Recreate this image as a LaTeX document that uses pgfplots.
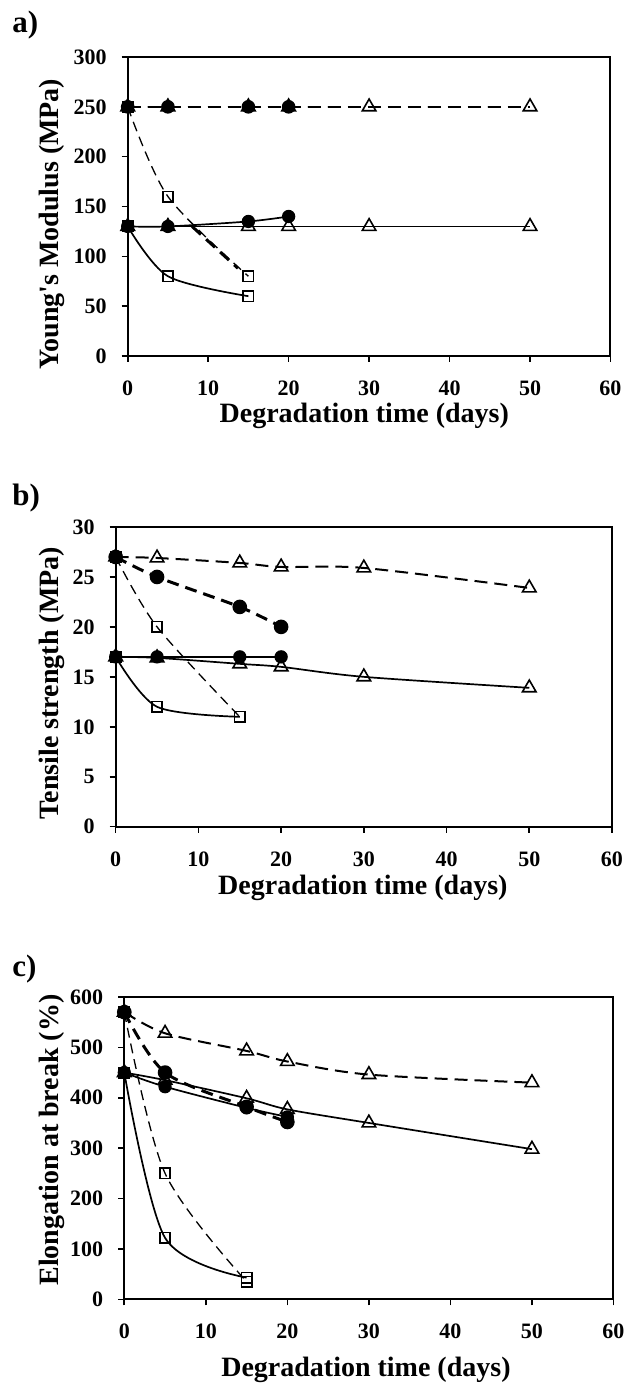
\documentclass[border=0pt]{standalone}
\usepackage{fontspec}
\setmainfont{Liberation Serif}
\usepackage{pgfplots}
\pgfplotsset{compat=1.18}

\pgfplotsset{
  panel/.style={
    scale only axis, anchor=south west,
    xmin=0, xmax=60, xtick={0,10,...,60},
    axis line style={line width=1pt},
    every tick/.style={black, line width=0.8pt},
    tick align=outside, major tick length=3pt,
    xtick pos=left, ytick pos=left,
    /pgf/number format/assume math mode=true,
    ticklabel style={font=\fontsize{11}{13}\selectfont\bfseries},
    xticklabel style={yshift=-6pt},
    yticklabel style={xshift=-4pt},
    label style={font=\fontsize{14}{16}\selectfont\bfseries},
    xlabel={Degradation time (days)},
    clip=false,
  },
  tri/.style={mark=triangle, mark size=3.9pt, mark options={solid, fill=white, line width=0.8pt}},
  sq/.style={mark=square, mark size=2.6pt, mark options={solid, fill=white, line width=0.8pt}},
  circ/.style={mark=*, mark size=2.9pt, mark options={solid, fill=black}},
  fsq/.style={mark=square*, mark size=2.6pt, mark options={solid, fill=black}},
  sline/.style={black, line width=0.85pt, smooth},
  dashA/.style={black, line width=1pt, dash pattern=on 6.5pt off 3.5pt, smooth},
  dashThin/.style={black, line width=0.65pt, dash pattern=on 5pt off 3pt, smooth},
  dashThick/.style={black, line width=1.5pt, dash pattern=on 6pt off 3.5pt, smooth},
}

\begin{document}
\begin{tikzpicture}
\useasboundingbox (0,0) rectangle (315pt,694.5pt);

% ---------------- panel a ----------------
\begin{axis}[panel, at={(63.85pt,516.5pt)}, width=241.4pt, height=149.5pt,
  ymin=0, ymax=300, ytick={0,50,...,300},
  ylabel={Young{\addfontfeature{Ligatures=TeXOff}'}s Modulus (MPa)},
  xlabel style={at={(rel axis cs:0.49,-0.2)}, anchor=center},
  ylabel style={at={(rel axis cs:-0.157,0.441)}, anchor=center}]
\addplot[dashA, tri] coordinates {(0,250)(5,250)(15,250)(20,250)(30,250)(50,250)};
\addplot[dashA, circ] coordinates {(0,250)(5,250)(15,250)(20,250)};
\addplot[dashThin, sq] coordinates {(0,250)(5,160)(15,80)};
\addplot[dashThick] coordinates {(8,130)(13.7,88)};
\addplot[sline, tri] coordinates {(0,130)(5,130)(15,130)(20,130)(30,130)(50,130)};
\addplot[sline, circ] coordinates {(0,130)(5,130)(15,135)(20,140)};
\addplot[sline, sq] coordinates {(0,130)(5,80)(15,60)};
\addplot[only marks, fsq] coordinates {(0,250)(0,130)};
\end{axis}

% ---------------- panel b ----------------
\begin{axis}[panel, at={(57.85pt,281.15pt)}, width=248.15pt, height=149.85pt,
  ymin=0, ymax=30, ytick={0,5,...,30},
  ylabel={Tensile strength (MPa)},
  xlabel style={at={(rel axis cs:0.498,-0.205)}, anchor=center},
  ylabel style={at={(rel axis cs:-0.128,0.479)}, anchor=center}]
\addplot[dashA, tri] coordinates {(0,27)(5,26.9)(15,26.4)(20,26)(30,25.9)(50,23.9)};
\addplot[dashThick, circ] coordinates {(0,27)(5,25)(15,22)(20,20)};
\addplot[dashThin, sq] coordinates {(0,27)(5,20)(15,11)};
\addplot[sline, tri] coordinates {(0,17)(5,16.9)(15,16.3)(20,16)(30,15)(50,13.9)};
\addplot[sline, circ] coordinates {(0,17)(5,17)(15,17)(20,17)};
\addplot[sline, sq] coordinates {(0,17)(5,12)(15,11)};
\addplot[only marks, fsq] coordinates {(0,27)(0,17)};
\end{axis}

% ---------------- panel c ----------------
\begin{axis}[panel, at={(62.15pt,44.85pt)}, width=244.6pt, height=151.15pt,
  ymin=0, ymax=600, ytick={0,100,...,600},
  ylabel={Elongation at break (\%)},
  xlabel style={at={(rel axis cs:0.494,-0.234)}, anchor=center},
  ylabel style={at={(rel axis cs:-0.148,0.527)}, anchor=center}]
\addplot[dashA, tri] coordinates {(0,570)(5,528)(15,493)(20,472)(30,446)(50,430)};
\addplot[dashThick, circ] coordinates {(0,570)(5,450)(15,382)(20,352)};
\addplot[dashThin, sq] coordinates {(0,570)(5,250)(15,35)};
\addplot[sline, tri] coordinates {(0,450)(5,435)(15,399)(20,377)(30,350)(50,298)};
\addplot[sline, circ] coordinates {(0,450)(5,422)(15,380)(20,362)};
\addplot[sline, sq] coordinates {(0,450)(5,122)(15,43)};
\addplot[only marks, fsq] coordinates {(0,570)(0,450)};
\end{axis}

% panel letters
\node[anchor=west, font=\fontsize{15.5}{17}\selectfont\bfseries, inner sep=0pt] at (6pt,682pt) {a)};
\node[anchor=west, font=\fontsize{15.5}{17}\selectfont\bfseries, inner sep=0pt] at (6pt,445.5pt) {b)};
\node[anchor=west, font=\fontsize{15.5}{17}\selectfont\bfseries, inner sep=0pt] at (6pt,210pt) {c)};
\end{tikzpicture}
\end{document}
